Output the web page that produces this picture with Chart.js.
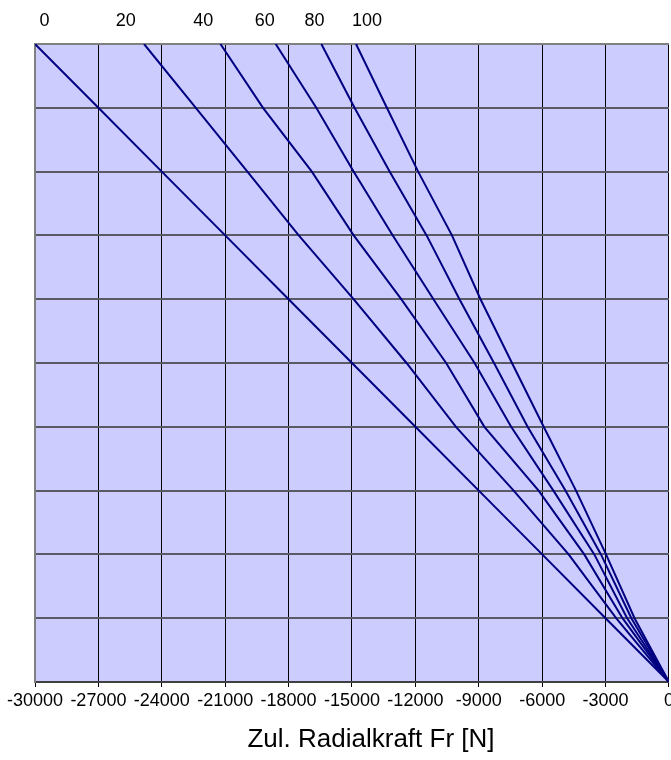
<!DOCTYPE html>
<html>
<head>
<meta charset="utf-8">
<script src="https://cdn.jsdelivr.net/npm/chart.js@4"></script>
<style>
  html, body { margin: 0; padding: 0; overflow: hidden; background: #fff; }
  #wrap { width: 671px; height: 760px; overflow: hidden; }
</style>
</head>
<body>
<div id="wrap"><canvas id="myChart" width="677" height="760"></canvas></div>
<script>
// y levels (grid rows, top to bottom)
const yLevels = [10, 9, 8, 7, 6, 5, 4, 3, 2, 1, 0];

// Zul. Radialkraft Fr [N] for each curve, read at every y level
const curve0   = [-30000, -27000, -24000, -21000, -18000, -15000, -12000, -9000, -6000, -3000, 0];
const curve20  = [-24840, -22390, -19950, -17520, -14925, -12420, -10080, -7350, -4750, -2500, 0];
const curve40  = [-21225, -19210, -16900, -14920, -12670, -10545, -8735, -6170, -4010, -2200, 0];
const curve60  = [-18610, -16690, -14925, -13070, -11145, -9200, -7470, -5470, -3535, -1980, 0];
const curve80  = [-16450, -14880, -13220, -11470, -9915, -8280, -6690, -4900, -3220, -1780, 0];
const curve100 = [-14810, -13350, -11870, -10270, -8920, -7430, -5930, -4400, -2980, -1630, 0];

const curveNames = ['0', '20', '40', '60', '80', '100'];
const curves = [curve0, curve20, curve40, curve60, curve80, curve100];

// top labels sit on a secondary axis
const topLabelAt = [-29550, -25700, -22040, -19130, -16770, -14290];

const xTicks = [-30000, -27000, -24000, -21000, -18000, -15000, -12000, -9000, -6000, -3000, 0];
const xTitle = 'Zul. Radialkraft Fr [N]';

const plotBg = {
  id: 'plotBg',
  beforeDraw(chart) {
    const a = chart.chartArea, c = chart.ctx;
    c.save();
    c.fillStyle = '#CCCCFF';
    c.fillRect(a.left, a.top, a.right - a.left, a.bottom - a.top);
    c.restore();
  }
};

// axis title, a bit right of centre like the original
const axisTitle = {
  id: 'axisTitle',
  afterDraw(chart) {
    const a = chart.chartArea, c = chart.ctx;
    c.save();
    c.fillStyle = '#000';
    c.font = '26px "Liberation Sans", Arial, sans-serif';
    c.textAlign = 'center';
    c.textBaseline = 'middle';
    c.fillText(xTitle, (a.left + a.right) / 2 + 19, 740);
    c.restore();
  }
};

var ctx = document.getElementById('myChart').getContext('2d');
const myChart = new Chart(ctx, {
  type: 'scatter',
  data: {
    datasets: curves.map((c, i) => ({
      label: curveNames[i],
      data: c.map((v, j) => ({ x: v, y: yLevels[j] })),
      showLine: true,
      borderColor: '#000080',
      borderWidth: 2,
      pointRadius: 0,
      tension: 0
    }))
  },
  options: {
    responsive: false,
    animation: false,
    devicePixelRatio: 1,
    layout: { padding: 0 },
    plugins: { legend: { display: false }, tooltip: { enabled: false } },
    scales: {
      x: {
        type: 'linear',
        position: 'bottom',
        min: -30000,
        max: 0,
        afterBuildTicks: s => { s.ticks = xTicks.map(v => ({ value: v })); },
        afterFit: s => { s.height = 78; },
        ticks: {
          color: '#000',
          padding: 3,
          maxRotation: 0,
          autoSkip: false,
          font: { family: 'Liberation Sans, Arial, sans-serif', size: 18 },
          callback: v => String(v)
        },
        grid: { color: '#000', lineWidth: 1, tickLength: 5, drawTicks: true },
        border: { color: '#404040', width: 2 }
      },
      x2: {
        type: 'linear',
        position: 'top',
        min: -30000,
        max: 0,
        afterBuildTicks: s => { s.ticks = topLabelAt.map(v => ({ value: v })); },
        afterFit: s => { s.height = 44; },
        ticks: {
          color: '#000',
          padding: 12,
          maxRotation: 0,
          autoSkip: false,
          font: { family: 'Liberation Sans, Arial, sans-serif', size: 18 },
          callback: (v, i) => curveNames[i]
        },
        grid: { display: false, drawTicks: false },
        border: { display: true, color: '#808080', width: 2 }
      },
      y: {
        type: 'linear',
        min: 0,
        max: 10,
        afterFit: s => { s.width = 35; },
        ticks: { display: false, stepSize: 1 },
        grid: { color: '#5a5a66', lineWidth: 2, drawTicks: false },
        border: { color: '#808080', width: 2 }
      }
    }
  },
  plugins: [plotBg, axisTitle]
});
</script>
</body>
</html>
